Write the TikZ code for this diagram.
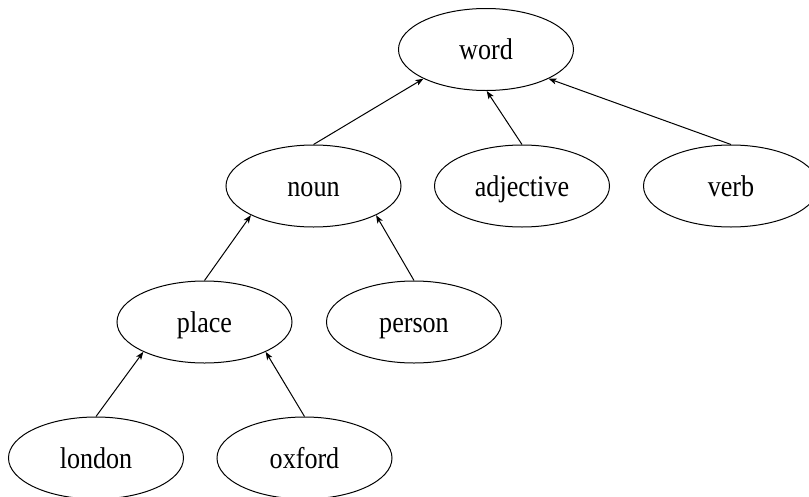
\documentclass[tikz,border=0pt]{standalone}
\usepackage{fontspec}
\setmainfont{Liberation Serif}[FakeStretch=0.87]
\usetikzlibrary{arrows.meta,shapes.geometric}
\begin{document}
\begin{tikzpicture}[x=1pt,y=-1pt,
  term/.style={draw, ellipse, line width=1pt, inner sep=0pt,
    minimum width=175pt, minimum height=82pt,
    text height=20pt, text depth=0pt,
    font=\fontsize{30}{30}\selectfont},
  isa/.style={line width=1pt, -{Stealth[length=8pt,width=6pt,inset=2pt]}}]
  \useasboundingbox (0,0) rectangle (809,496);
  \clip (0,0) rectangle (809,496);
  % taxonomy of words
  \node[term] (word)      at (486,49.5)  {word};
  \node[term] (noun)      at (313.5,186) {noun};
  \node[term] (adjective) at (522,186)   {adjective};
  \node[term] (verb)      at (731,186)   {verb};
  \node[term] (place)     at (204.5,322) {place};
  \node[term] (person)    at (414,322)   {person};
  \node[term] (london)    at (96,458)    {london};
  \node[term] (oxford)    at (304.5,458) {oxford};
  % each child points up to its parent
  \draw[isa] (noun.north)      -- (word.205);
  \draw[isa] (adjective.north) -- (word.271);
  \draw[isa] (verb.north)      -- (word.335);
  \draw[isa] (place.north)     -- (noun.205);
  \draw[isa] (person.north)    -- (noun.335);
  \draw[isa] (london.north)    -- (place.206);
  \draw[isa] (oxford.north)    -- (place.334);
\end{tikzpicture}
\end{document}
